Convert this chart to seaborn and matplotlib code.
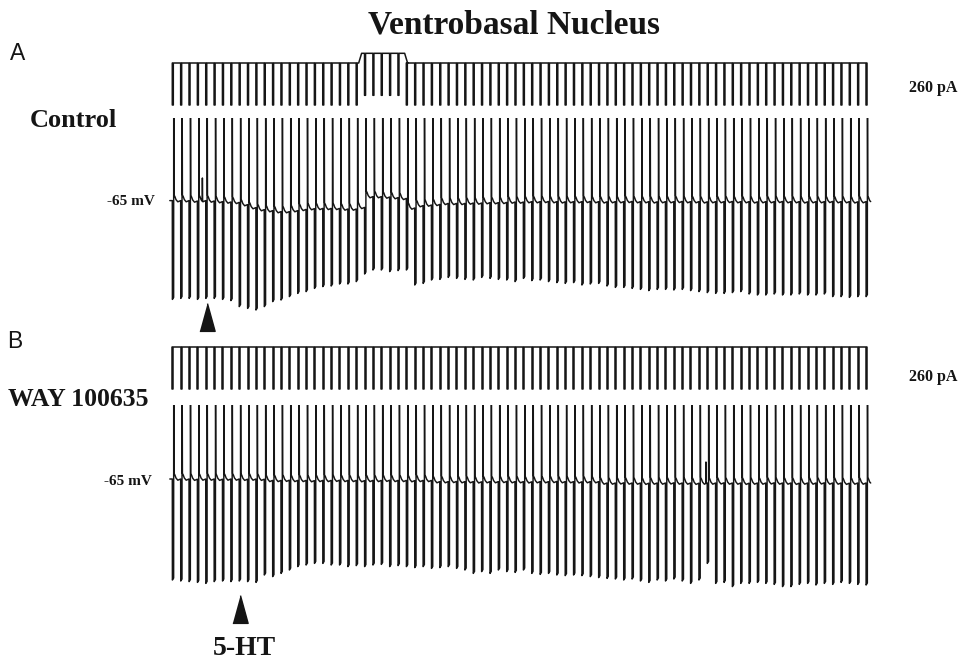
import numpy as np
import matplotlib
matplotlib.use("Agg")
import matplotlib.pyplot as plt
import matplotlib.transforms as mtransforms
import seaborn as sns

# ---------------- data ----------------
n_pulses = 84
pulse_period_s = 1.0
pulse_times_s = np.arange(n_pulses) * pulse_period_s
pulse_width_s = 0.16
pulse_current_pA = -260.0
step_current_pA = 60.0
step_on_s, step_off_s = 22.3, 27.8          # depolarising step in panel A
spike_peak_mV = 10.0                          # rebound spikes (clipped by the chart)

A_trough_mV = [
    -114.7, -114.2, -114.2, -114.7, -114.2, -114.2, -114.7, -115.3, -118.3, -119.2,
    -120.0, -118.3, -115.8, -115.0, -113.3, -111.7, -110.8, -109.2, -108.3, -108.0,
    -107.0, -107.0, -105.8, -102.0, -100.0, -100.0, -100.8, -100.3, -100.0, -107.5,
    -106.7, -105.0, -104.7, -103.7, -104.2, -104.7, -105.0, -103.7, -104.2, -104.7,
    -105.0, -105.8, -104.2, -105.3, -105.0, -105.8, -106.3, -106.7, -106.3, -107.5,
    -107.0, -106.7, -108.0, -108.7, -108.7, -109.2, -109.7, -110.3, -109.7, -109.7,
    -110.0, -109.7, -110.3, -110.8, -111.3, -111.7, -111.7, -111.3, -110.8, -112.0,
    -112.5, -112.5, -112.0, -112.5, -112.5, -112.0, -112.5, -112.5, -112.0, -113.3,
    -113.3, -113.7, -113.3, -113.3]

A_base_mV = [
    -65.3, -65.3, -65.5, -65.3, -65.5, -65.8, -66.0, -66.2, -67.3, -68.8,
    -69.8, -70.3, -70.8, -70.8, -70.3, -69.7, -69.3, -69.2, -69.2, -69.2,
    -69.5, -69.5, -68.7, -63.3, -63.3, -63.5, -63.8, -64.2, -69.0, -67.8,
    -67.5, -67.2, -66.7, -66.7, -66.7, -66.5, -66.5, -66.3, -66.3, -66.2,
    -66.0, -66.0, -65.8, -65.8, -65.7, -65.8, -65.9, -65.8, -65.8, -65.7,
    -65.8, -65.9, -65.8, -65.8, -65.7, -65.8, -65.8, -65.9, -65.8, -65.8,
    -65.7, -65.8, -65.8, -65.9, -65.8, -65.8, -65.7, -65.8, -65.8, -65.9,
    -65.8, -65.8, -65.7, -65.8, -65.8, -65.9, -65.8, -65.8, -65.7, -65.8,
    -65.8, -65.9, -65.8, -65.8]

B_trough_mV = [
    -115.0, -115.5, -115.8, -116.2, -116.7, -115.8, -115.5, -115.8, -115.5, -115.8,
    -116.2, -112.5, -113.3, -111.7, -110.0, -108.3, -107.5, -106.7, -106.7, -107.5,
    -107.5, -108.3, -107.8, -108.3, -107.5, -107.2, -108.3, -107.8, -108.3, -108.8,
    -108.3, -109.2, -108.8, -108.3, -109.2, -110.0, -111.7, -110.8, -111.7, -110.0,
    -110.8, -111.2, -110.0, -111.7, -112.2, -111.7, -112.5, -112.8, -112.5, -112.8,
    -113.3, -113.8, -114.2, -114.5, -115.0, -114.5, -115.5, -116.2, -115.0, -115.5,
    -114.5, -115.5, -116.7, -115.0, -106.7, -116.7, -116.2, -118.3, -116.7, -116.7,
    -116.2, -116.7, -117.2, -118.3, -118.3, -117.2, -116.7, -117.5, -116.7, -117.2,
    -116.2, -116.7, -117.2, -117.5]

B_base_mV = [
    -64.5, -64.5, -64.6, -64.5, -64.5, -64.6, -64.5, -64.5, -64.6, -64.5,
    -64.6, -65.2, -65.2, -65.1, -65.2, -65.2, -65.3, -65.2, -65.2, -65.1,
    -65.2, -65.2, -65.3, -65.2, -65.2, -65.1, -65.2, -65.2, -65.3, -65.2,
    -65.2, -65.8, -65.8, -65.7, -65.8, -65.8, -65.9, -65.8, -65.8, -65.7,
    -65.8, -65.8, -65.9, -65.8, -65.8, -65.7, -65.8, -65.8, -65.9, -65.8,
    -65.8, -66.5, -66.5, -66.4, -66.5, -66.5, -66.6, -66.5, -66.5, -66.4,
    -66.5, -66.5, -66.6, -66.5, -66.5, -66.4, -66.5, -66.5, -66.6, -66.5,
    -66.5, -66.4, -66.5, -66.5, -66.6, -66.5, -66.5, -66.4, -66.5, -66.5,
    -66.6, -66.5, -66.5, -66.5]

A_artifact = (3.6, -54.0)     # (time s, peak mV)
B_artifact = (63.85, -56.0)
A_5HT_s = 4.2
B_5HT_s = 8.05

title = "Ventrobasal Nucleus"
cond_A, cond_B = "Control", "WAY 100635"
drug_label = "5-HT"
v_label = "-65 mV"
i_label = "260 pA"


# ---------------- waveform assembly ----------------
def voltage_trace(base, trough, artifact):
    w = pulse_width_s
    t, v = [pulse_times_s[0] - 0.3], [base[0]]
    for i, ti in enumerate(pulse_times_s):
        b_prev = base[i - 1] if i > 0 else base[0]
        b = base[i]
        seg = [(ti, b_prev), (ti + 0.01, trough[i]), (ti + w, trough[i] + 1.0),
               (ti + w + 0.01, spike_peak_mV), (ti + w + 0.05, b + 2.8),
               (ti + w + 0.15, b + 2.0), (ti + w + 0.28, b + 0.5)]
        if i < n_pulses - 1:
            seg += [(ti + w + 0.5, b - 0.6), (ti + 0.97, b)]
        else:
            seg += [(ti + w + 0.4, b)]
        for a, c in seg:
            t.append(a)
            v.append(c)
    t = np.array(t)
    v = np.array(v)
    ta, pk = artifact
    k = np.searchsorted(t, ta)
    bl = np.interp(ta, t, v)
    t = np.insert(t, k, [ta - 0.02, ta, ta + 0.03])
    v = np.insert(v, k, [bl, pk, bl])
    return t, v


def current_trace(step=None):
    w = 0.12
    t, c = [], []

    def hold(x):
        if step is not None and step[0] <= x <= step[1]:
            return step_current_pA
        return 0.0

    for i, ti in enumerate(pulse_times_s):
        if step is not None and i > 0:
            prev_end = pulse_times_s[i - 1] + w
            for edge, rising in ((step[0], True), (step[1], False)):
                if prev_end < edge < ti:
                    t += [edge, edge + 0.35]
                    c += ([0.0, step_current_pA] if rising else [step_current_pA, 0.0])
        h = hold(ti)
        t += [ti, ti, ti + w, ti + w]
        c += [h, h + pulse_current_pA, h + pulse_current_pA, h]
    return np.array(t), np.array(c)


# ---------------- layout ----------------
W, H = 967, 660
sns.set_theme(style="white")
plt.rcParams["font.family"] = ["Liberation Serif", "DejaVu Serif"]
fig = plt.figure(figsize=(W / 100, H / 100), dpi=100)

T0_PX, PX_PER_S = 172.3, 8.358
X0_PX, X1_PX = 150, 890
XLIM = ((X0_PX - T0_PX) / PX_PER_S, (X1_PX - T0_PX) / PX_PER_S)
PX_PER_MV = 2.0
PA_PER_PX = 6.19
INK = "#151515"


def px_axes(y0, y1):
    ax = fig.add_axes([X0_PX / W, 1 - y1 / H, (X1_PX - X0_PX) / W, (y1 - y0) / H])
    ax.set_xlim(*XLIM)
    ax.set_axis_off()
    return ax


def current_axes(y0, y1, yzero):
    ax = px_axes(y0, y1)
    ax.set_ylim(-(y1 - yzero) * PA_PER_PX, (yzero - y0) * PA_PER_PX)
    return ax


def voltage_axes(y0, y1, yref):
    ax = px_axes(y0, y1)
    ax.set_ylim(-65 - (y1 - yref) / PX_PER_MV, -65 + (yref - y0) / PX_PER_MV)
    return ax


axAi = current_axes(38, 118, 63)
axAv = voltage_axes(118, 318, 200)
axBi = current_axes(325, 402, 347)
axBv = voltage_axes(405, 596, 480)

tA_i, cA = current_trace(step=(step_on_s, step_off_s))
tB_i, cB = current_trace()
tA_v, vA = voltage_trace(A_base_mV, A_trough_mV, A_artifact)
tB_v, vB = voltage_trace(B_base_mV, B_trough_mV, B_artifact)

for ax, (tt, yy), lw in ((axAi, (tA_i, cA), 1.1), (axBi, (tB_i, cB), 1.1),
                         (axAv, (tA_v, vA), 1.05), (axBv, (tB_v, vB), 1.05)):
    sns.lineplot(x=tt, y=yy, ax=ax, sort=False, estimator=None,
                 color=INK, linewidth=lw)
    ax.set_xlim(*XLIM)
    ax.set_axis_off()

# 5-HT application arrowheads
tri = [(-0.55, -1.0), (0.55, -1.0), (0.0, 1.0)]
for ax, tdrug, ypx in ((axAv, A_5HT_s, 317), (axBv, B_5HT_s, 609)):
    tr = mtransforms.blended_transform_factory(ax.transData, fig.transFigure)
    ax.plot([tdrug], [1 - ypx / H], marker=tri, markersize=20, color=INK,
            linestyle="none", transform=tr, clip_on=False)


def ftext(x, y, s, **kw):
    fig.text(x / W, 1 - y / H, s, **kw)


serif = ["Liberation Serif", "DejaVu Serif"]
sans = ["Liberation Sans", "DejaVu Sans"]
ftext(514, 34, title, family=serif, weight="bold", fontsize=24,
      ha="center", va="baseline", color=INK)
ftext(10, 60, "A", family=sans, fontsize=16.5, ha="left", va="baseline", color=INK)
ftext(7, 348, "B", family=sans, fontsize=16.5, ha="left", va="baseline", color=INK)
ftext(30, 127, cond_A, family=serif, weight="bold", fontsize=19,
      ha="left", va="baseline", color=INK)
ftext(8, 406, cond_B, family=serif, weight="bold", fontsize=18.5,
      ha="left", va="baseline", color=INK)
ftext(155, 205, v_label, family=serif, weight="bold", fontsize=11,
      ha="right", va="baseline", color=INK)
ftext(152, 485, v_label, family=serif, weight="bold", fontsize=11,
      ha="right", va="baseline", color=INK)
ftext(909, 92, i_label, family=serif, weight="bold", fontsize=11.5,
      ha="left", va="baseline", color=INK)
ftext(909, 381, i_label, family=serif, weight="bold", fontsize=11.5,
      ha="left", va="baseline", color=INK)
ftext(244, 655, drug_label, family=serif, weight="bold", fontsize=20,
      ha="center", va="baseline", color=INK)

fig.savefig("out.png", dpi=100, facecolor="white")
